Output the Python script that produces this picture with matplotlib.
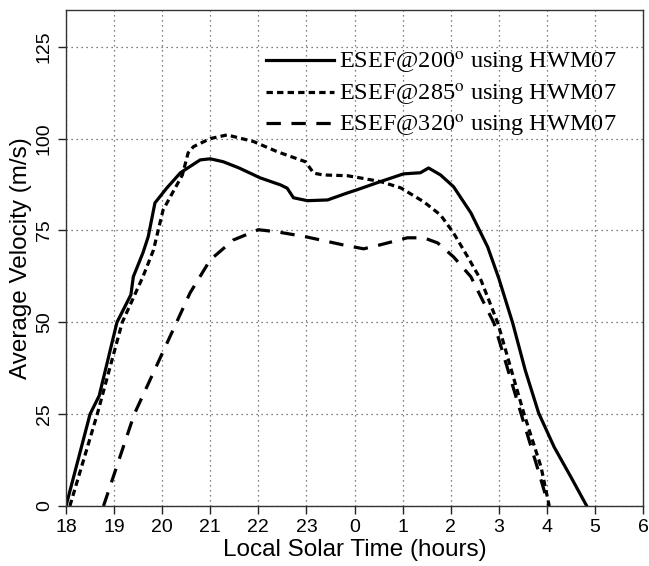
import matplotlib
matplotlib.use("Agg")
import matplotlib.pyplot as plt

plt.rcParams['font.family'] = ['Liberation Sans', 'DejaVu Sans']
plt.rcParams['mathtext.fontset'] = 'stix'

# local solar time in hours, after midnight continued as 24+
t200 = [18.0, 18.5, 18.69, 19.06, 19.35, 19.4, 19.6, 19.71, 19.85, 20.1, 20.38, 20.79,
        21.0, 21.27, 21.6, 22.04, 22.46, 22.6, 22.73, 23.02, 23.44, 23.85, 24.06, 24.54,
        25.02, 25.37, 25.54, 25.79, 26.06, 26.42, 26.77, 27.0, 27.29, 27.55, 27.83,
        28.15, 28.5, 28.83]
v200 = [0, 25, 30, 50, 57.5, 62.4, 68.9, 73.3, 82.5, 86.6, 90.7, 94.2,
        94.5, 93.7, 92.0, 89.3, 87.4, 86.5, 83.9, 83.1, 83.3, 85.2, 86.1, 88.3,
        90.4, 90.7, 92.0, 90.1, 86.9, 79.8, 70.5, 62.0, 49.8, 37.0, 25.3,
        16.1, 7.9, 0]

t285 = [18.08, 18.65, 19.17, 19.6, 19.82, 19.92, 20.02, 20.1, 20.42, 20.54, 20.65, 21.0,
        21.35, 21.9, 22.4, 22.98, 23.15, 23.35, 23.85, 24.12, 24.54, 24.96, 25.44,
        25.79, 26.06, 26.35, 26.63, 26.98, 27.52, 27.88, 28.05]
v285 = [0, 25, 50, 62.4, 69.7, 75.2, 80.6, 82.5, 90.1, 96.1, 97.8, 100.0,
        101.0, 99.2, 96.4, 93.7, 90.6, 90.1, 89.9, 89.3, 88.3, 86.6, 82.8,
        79.2, 74.3, 67.9, 61.5, 49.8, 25.3, 10.6, 0]

t320 = [18.78, 19.42, 20.3, 20.58, 21.0, 21.48, 22.0, 22.4, 22.98, 23.75, 24.19, 24.54,
        25.1, 25.44, 25.73, 26.06, 26.42, 26.9, 27.46, 27.8, 28.04]
v320 = [0, 25, 50, 58.0, 67.0, 72.4, 75.2, 74.6, 73.3, 71.1, 70.0, 71.1,
        73.0, 73.0, 71.6, 67.8, 62.4, 49.8, 25.3, 10.6, 0]

xticks = list(range(18, 31))
xlabels = ['18', '19', '20', '21', '22', '23', '0', '1', '2', '3', '4', '5', '6']
yticks = [0, 25, 50, 75, 100, 125]

fig = plt.figure(figsize=(6.49, 5.66), dpi=100)
ax = fig.add_axes([66/649, 60/566, 577/649, 496/566])

ax.plot(t200, v200, color='black', lw=2.3, ls='-',
        label=r'ESEF@200$^\mathrm{o}$ using HWM07')
ax.plot(t285, v285, color='black', lw=2.3, ls=(0, (2.0, 1.3)),
        label=r'ESEF@285$^\mathrm{o}$ using HWM07')
ax.plot(t320, v320, color='black', lw=2.3, ls=(0, (4.5, 3.3)),
        label=r'ESEF@320$^\mathrm{o}$ using HWM07')

ax.set_xlim(18, 30)
ax.set_ylim(0, 135)
ax.set_xticks(xticks)
ax.set_xticklabels(xlabels)
ax.set_yticks(yticks)
ax.set_yticklabels([str(v) for v in yticks], rotation=90, va='center')
ax.tick_params(labelsize=14, length=6, width=1, direction='out', colors='#222222',
               labelcolor='black')
ax.grid(True, color='#555555', ls=(0, (1, 3)), lw=0.9)
for s in ax.spines.values():
    s.set_linewidth(1.0)
    s.set_color('#333333')

ax.set_xlabel('Local Solar Time (hours)', fontsize=17.5, labelpad=2)
ax.set_ylabel('Average Velocity (m/s)', fontsize=17.5, labelpad=3)

ax.legend(loc='upper left', bbox_to_anchor=(266/649, 1 - 50/566),
          bbox_transform=fig.transFigure, frameon=False, borderpad=0,
          borderaxespad=0, handlelength=2.8, handletextpad=0.2, labelspacing=0.22,
          prop={'family': 'Liberation Serif', 'size': 17.5})

fig.savefig('out.png', dpi=100)
